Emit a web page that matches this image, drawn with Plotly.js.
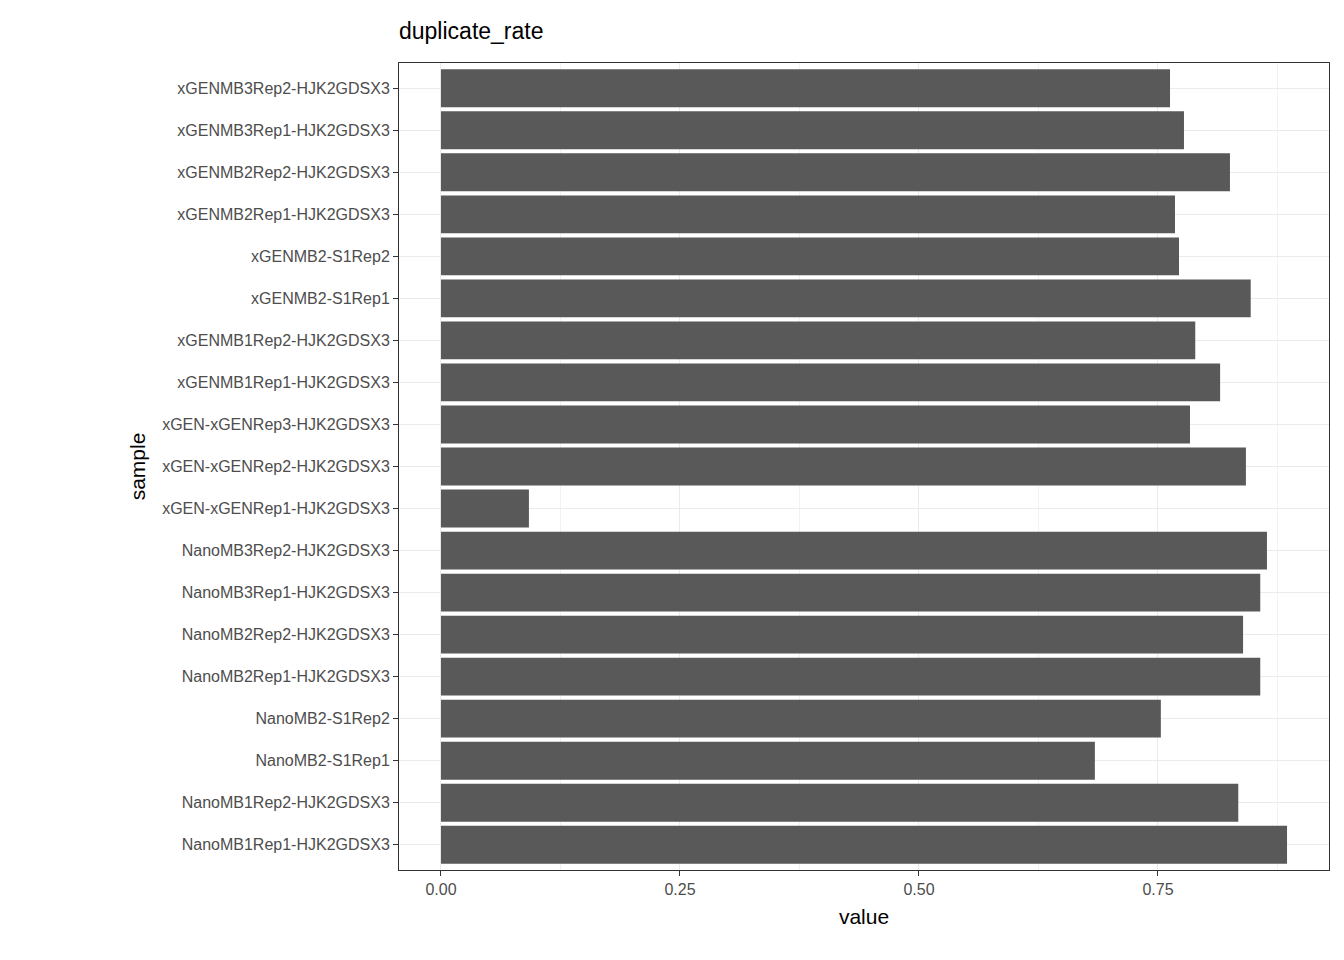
<!DOCTYPE html>
<html>
<head>
<meta charset="utf-8">
<script src="https://cdn.plot.ly/plotly-3.0.1.min.js"></script>
<style>body{margin:0;background:#fff}</style>
</head>
<body>
<div id="chart" style="width:1344px;height:960px"></div>
<script>
'use strict';

// bottom to top, as drawn
const samples = [
  "NanoMB1Rep1-HJK2GDSX3", "NanoMB1Rep2-HJK2GDSX3", "NanoMB2-S1Rep1", "NanoMB2-S1Rep2",
  "NanoMB2Rep1-HJK2GDSX3", "NanoMB2Rep2-HJK2GDSX3", "NanoMB3Rep1-HJK2GDSX3", "NanoMB3Rep2-HJK2GDSX3",
  "xGEN-xGENRep1-HJK2GDSX3", "xGEN-xGENRep2-HJK2GDSX3", "xGEN-xGENRep3-HJK2GDSX3",
  "xGENMB1Rep1-HJK2GDSX3", "xGENMB1Rep2-HJK2GDSX3", "xGENMB2-S1Rep1", "xGENMB2-S1Rep2",
  "xGENMB2Rep1-HJK2GDSX3", "xGENMB2Rep2-HJK2GDSX3", "xGENMB3Rep1-HJK2GDSX3", "xGENMB3Rep2-HJK2GDSX3"
];
const values = [
  0.885, 0.834, 0.684, 0.753,
  0.857, 0.839, 0.857, 0.864,
  0.092, 0.842, 0.7835,
  0.815, 0.789, 0.847, 0.772,
  0.7678, 0.8253, 0.7772, 0.7626
];
const tickVals = [0, 0.25, 0.5, 0.75];
const tickText = ["0.00", "0.25", "0.50", "0.75"];

const font = "Liberation Sans, Arial, sans-serif";

Plotly.newPlot("chart", [{
  type: "bar", orientation: "h",
  x: values, y: samples, width: 0.9,
  marker: { color: "#595959" },
  hoverinfo: "x+y"
}], {
  width: 1344, height: 960,
  margin: { l: 399, r: 15, t: 63, b: 90 },
  paper_bgcolor: "#fff", plot_bgcolor: "#fff",
  font: { family: font },
  title: { text: "duplicate_rate", x: 399 / 1344, xanchor: "left", y: 0.968, yanchor: "middle",
    font: { size: 23, color: "#000", family: font } },
  xaxis: {
    range: [-0.0439, 0.9289],
    tickvals: tickVals, ticktext: tickText,
    tickfont: { size: 16, color: "#4d4d4d" },
    ticks: "outside", ticklen: 5, tickcolor: "#333",
    showgrid: true, gridcolor: "#ebebeb", gridwidth: 1.3,
    minor: { dtick: 0.25, tick0: 0.125, showgrid: true, gridcolor: "#f2f2f2", gridwidth: 0.7 },
    zeroline: false, showline: true, mirror: true, linecolor: "#333", linewidth: 1,
    title: { text: "value", font: { size: 21, color: "#000" }, standoff: 12 }
  },
  yaxis: {
    type: "category", range: [-0.6, 18.6],
    tickfont: { size: 16, color: "#4d4d4d" },
    ticks: "outside", ticklen: 5, tickcolor: "#333",
    showgrid: true, gridcolor: "#ebebeb", gridwidth: 1.3,
    zeroline: false, showline: true, mirror: true, linecolor: "#333", linewidth: 1,
    title: { text: "sample", font: { size: 21, color: "#000" }, standoff: 10 }
  },
  showlegend: false
}, { displayModeBar: false });
</script>
</body>
</html>
